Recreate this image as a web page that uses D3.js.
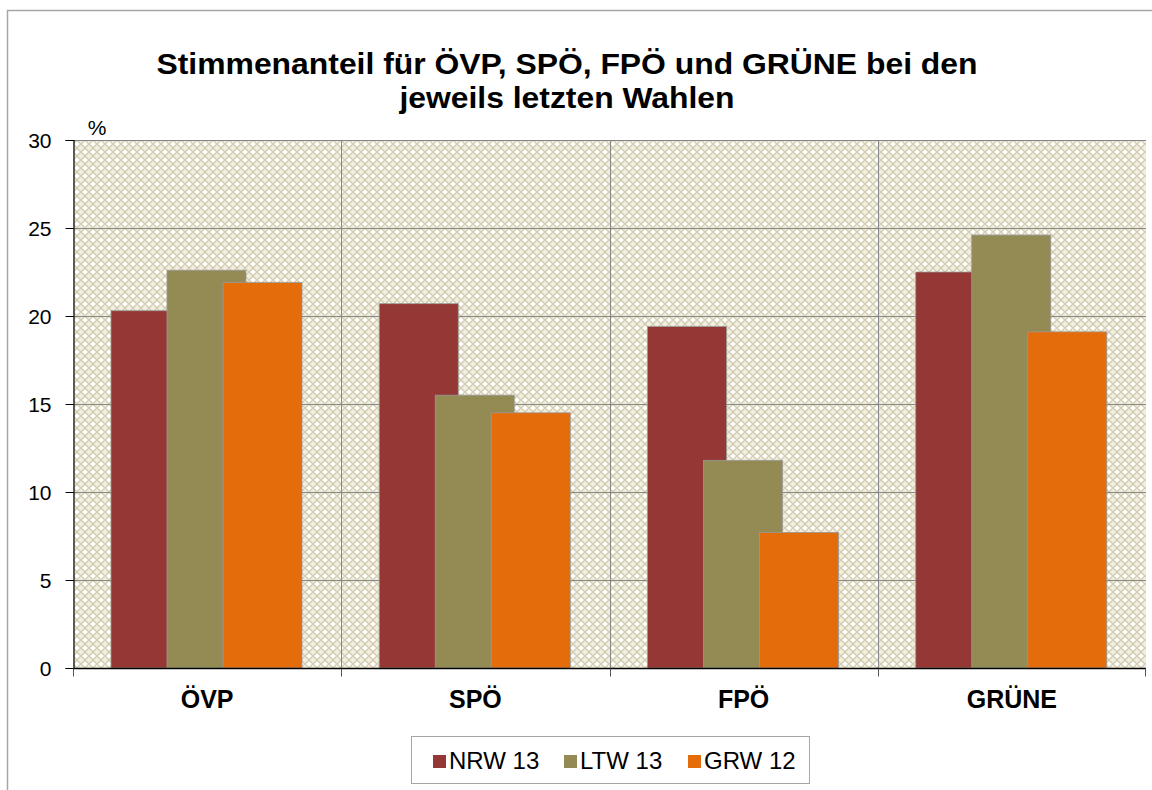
<!DOCTYPE html>
<html><head><meta charset="utf-8">
<script src="https://cdn.jsdelivr.net/npm/d3@7"></script>
<style>body{margin:0;background:#fff;}svg{display:block;font-family:Arial,"Liberation Sans",sans-serif;}</style>
</head><body>
<svg id="c" width="1152" height="790"></svg>
<script>
const categories = ["ÖVP", "SPÖ", "FPÖ", "GRÜNE"];
const seriesNames = ["NRW 13", "LTW 13", "GRW 12"];
const nrw13 = [20.3, 20.7, 19.4, 22.5];
const ltw13 = [22.6, 15.5, 11.8, 24.6];
const grw12 = [21.9, 14.5, 7.7, 19.1];
const yTicks = [0, 5, 10, 15, 20, 25, 30];
const colors = ["#953735", "#948A54", "#E46C0A"];
const titleLines = ["Stimmenanteil für ÖVP, SPÖ, FPÖ und GRÜNE bei den", "jeweils letzten Wahlen"];

const seriesValues = [nrw13, ltw13, grw12];
const svg = d3.select("#c");
const FONT = "Arial,'Liberation Sans',sans-serif";

// outer border
svg.append("rect").attr("x", 7.5).attr("y", 10.5).attr("width", 1160).attr("height", 800)
  .attr("fill", "none").attr("stroke", "#a6a6a6").attr("stroke-width", 1.5);

// pattern
const defs = svg.append("defs");
const pat = defs.append("pattern").attr("id", "hatch").attr("patternUnits", "userSpaceOnUse")
  .attr("width", 8).attr("height", 8).attr("x", 73).attr("y", 140);
pat.append("rect").attr("width", 8).attr("height", 8).attr("fill", "#f1eee2");
pat.append("path").attr("d", "M0,4 L4,0 L8,4 L4,8 Z").attr("fill", "none").attr("stroke", "#d3cbad").attr("stroke-width", 1.2);
pat.append("rect").attr("x", 3).attr("y", 2).attr("width", 2).attr("height", 4).attr("fill", "#ffffff");
pat.append("rect").attr("x", 2).attr("y", 3).attr("width", 4).attr("height", 2).attr("fill", "#ffffff");

const L = 73, R = 1146, T = 140, B = 668;
const x0 = d3.scaleBand().domain(categories).range([L, R]).padding(0);
const x1 = d3.scaleBand().domain(seriesNames).range([38, 38 + 56 * 3]).padding(0);
const barW = 79;
const y = d3.scaleLinear().domain([0, 30]).range([B, T]);

svg.append("rect").attr("x", L).attr("y", T).attr("width", R - L).attr("height", B - T).attr("fill", "url(#hatch)");

// gridlines
svg.append("g").selectAll("line").data(yTicks.filter(t => t > 0)).join("line")
  .attr("x1", L).attr("x2", R).attr("y1", d => Math.round(y(d)) + 0.5).attr("y2", d => Math.round(y(d)) + 0.5)
  .attr("stroke", "#878787").attr("stroke-width", 1);
svg.append("g").selectAll("line").data(categories.slice(1)).join("line")
  .attr("x1", d => Math.round(x0(d)) + 0.5).attr("x2", d => Math.round(x0(d)) + 0.5).attr("y1", T).attr("y2", B)
  .attr("stroke", "#878787").attr("stroke-width", 1);

// bars
seriesNames.forEach((s, si) => {
  svg.append("g").selectAll("rect").data(categories).join("rect")
    .attr("x", (c) => x0(c) + x1(s))
    .attr("y", (c, i) => y(seriesValues[si][i]))
    .attr("width", barW)
    .attr("height", (c, i) => B - y(seriesValues[si][i]))
    .attr("fill", colors[si])
    .attr("stroke", "#999999").attr("stroke-width", 0.8);
});

// y axis
const yAxis = d3.axisLeft(y).tickValues(yTicks).tickSize(8).tickPadding(14);
const gy = svg.append("g").attr("transform", `translate(${L + 0.5},0)`).call(yAxis);
gy.attr("font-family", FONT).attr("font-size", 21);
gy.select(".domain").attr("stroke", "#000").attr("stroke-width", 1.2);
gy.selectAll(".tick line").attr("stroke", "#000");
gy.selectAll(".tick text").attr("font-size", 21).attr("fill", "#000").attr("dy", "0.36em");

// x axis
const gx = svg.append("g").attr("transform", `translate(0,${B + 0.5})`);
gx.append("line").attr("x1", L).attr("x2", R).attr("stroke", "#000").attr("stroke-width", 1.5);
gx.selectAll("line.t").data(categories.concat(["__end"])).join("line").attr("class", "t")
  .attr("x1", (d, i) => i < categories.length ? Math.round(x0(d)) + 0.5 : R - 0.5)
  .attr("x2", (d, i) => i < categories.length ? Math.round(x0(d)) + 0.5 : R - 0.5)
  .attr("y1", 0).attr("y2", 8).attr("stroke", "#555");
gx.selectAll("text").data(categories).join("text")
  .attr("x", d => x0(d) + x0.bandwidth() / 2).attr("y", 708 - B - 0.5)
  .attr("text-anchor", "middle").attr("font-size", 25).attr("font-weight", "bold").attr("fill", "#000")
  .text(d => d);

// % label
svg.append("text").attr("x", 97).attr("y", 135).attr("text-anchor", "middle").attr("font-size", 21).text("%");

// title
const titleW = [821, 335];
svg.append("g").selectAll("text").data(titleLines).join("text")
  .attr("x", 567).attr("y", (d, i) => 74 + i * 34).attr("text-anchor", "middle")
  .attr("font-size", 30).attr("font-weight", "bold").attr("fill", "#000")
  .attr("textLength", (d, i) => titleW[i]).attr("lengthAdjust", "spacingAndGlyphs")
  .text(d => d);

// legend
const lg = svg.append("g");
lg.append("rect").attr("x", 411.5).attr("y", 736.5).attr("width", 398).attr("height", 47)
  .attr("fill", "#fff").attr("stroke", "#a6a6a6");
const legX = [433, 564, 688];
seriesNames.forEach((s, i) => {
  lg.append("rect").attr("x", legX[i]).attr("y", 755).attr("width", 13).attr("height", 13).attr("fill", colors[i]);
  lg.append("text").attr("x", legX[i] + 16).attr("y", 769).attr("font-size", 24).attr("fill", "#000").text(s);
});
</script>
</body></html>
